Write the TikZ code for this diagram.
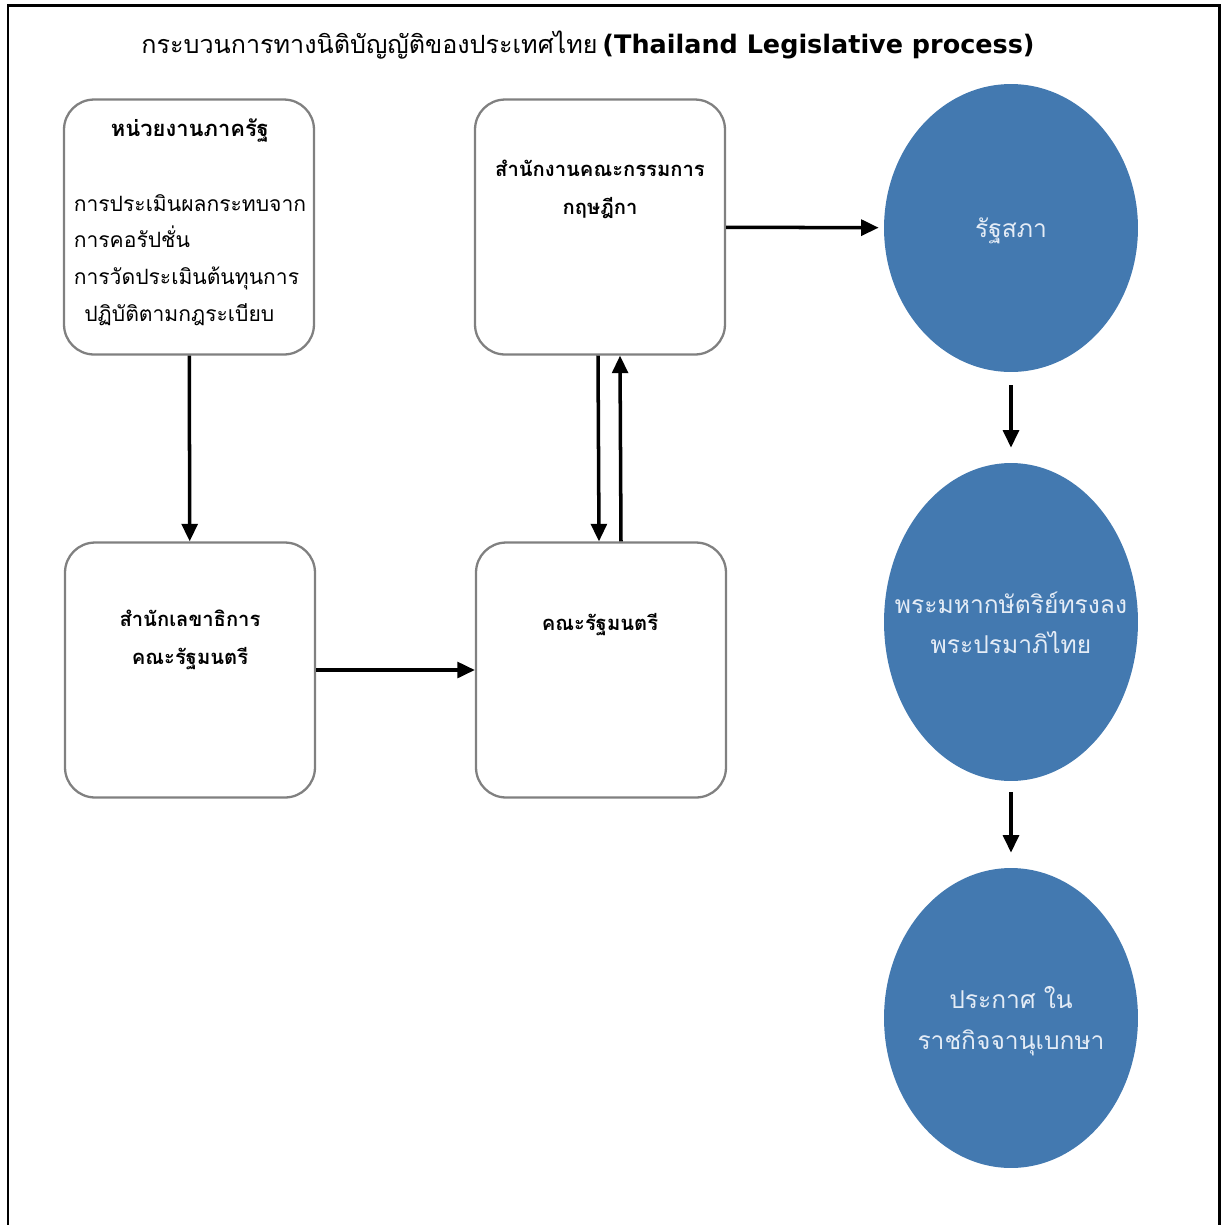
\documentclass[tikz,border=0pt]{standalone}
\usepackage{fontspec}
\setmainfont{Liberation Sans}
\newfontfamily\thaifont[Script=Thai]{Loma}
\newfontfamily\titlefont{DejaVu Sans}
\usetikzlibrary{arrows.meta,positioning,shapes.geometric}
\definecolor{ovalblue}{RGB}{67,121,176}
\definecolor{ovaltext}{RGB}{228,236,246}
\tikzset{
  govbox/.style={draw=gray, line width=1.3pt, rounded corners=0.6cm,
    minimum width=5cm, minimum height=5.1cm, inner sep=0pt},
  ovalnode/.style={ellipse, fill=ovalblue, draw=none, minimum width=5.08cm,
    inner sep=0pt},
  ovaltextstyle/.style={text=ovaltext, align=center,
    font=\thaifont\fontsize{14}{23}\selectfont},
  boxhead/.style={align=center, font=\thaifont\bfseries\fontsize{11.5}{21.5}\selectfont},
  boxtext/.style={align=left, font=\thaifont\fontsize{12}{21}\selectfont},
  flow/.style={-{Triangle[length=10pt,width=9pt]}, line width=2pt},
}
\begin{document}
\begin{tikzpicture}[x=0.02cm,y=-0.02cm]
  \useasboundingbox (0,0) rectangle (1221,1225);
  \draw[line width=1.7pt] (8,1225) -- (8,5) -- (1219,5) -- (1219,1225);
  \node (title) at (588,45) {{\thaifont\fontsize{14.3}{18}\selectfont กระบวนการทางนิติบัญญัติของประเทศไทย} {\titlefont\bfseries\fontsize{14.5}{18}\selectfont(Thailand Legislative process)}};

  % boxes
  \node[govbox] (gov) at (189,227) {};
  \node[govbox] (krisdika) at (600,227) {};
  \node[govbox] (sec) at (190,670) {};
  \node[govbox] (cab) at (601,670) {};
  \node[boxhead, font=\thaifont\bfseries\fontsize{12.5}{21.5}\selectfont] (govhead) at (190,131) {หน่วยงานภาครัฐ};
  \node[boxtext] (govtext) at (190,260) {การประเมินผลกระทบจาก\\การคอรัปชั่น\\การวัดประเมินต้นทุนการ\\\hspace{0.5em}ปฏิบัติตามกฎระเบียบ};
  \node[boxhead] (krisdikatext) at (600,189) {สำนักงานคณะกรรมการ\\กฤษฎีกา};
  \node[boxhead] (sectext) at (190,640) {สำนักเลขาธิการ\\คณะรัฐมนตรี};
  \node[boxhead] (cabtext) at (600,625) {คณะรัฐมนตรี};

  % ovals
  \node[ovalnode, minimum height=5.76cm] (parliament) at (1011,228) {};
  \node[ovalnode, minimum height=6.36cm] (king) at (1011,622) {};
  \node[ovalnode, minimum height=6cm] (gazette) at (1011,1018) {};
  \node[ovaltextstyle] (parliamenttext) at (1011,231) {รัฐสภา};
  \node[ovaltextstyle] (kingtext) at (1011,623) {พระมหากษัตริย์ทรงลง\\พระปรมาภิไทย};
  \node[ovaltextstyle] (gazettetext) at (1011,1021) {ประกาศ ใน\\ราชกิจจานุเบกษา};

  % arrows
  \draw[flow] (gov) -- (sec);
  \draw[flow] (sec) -- (cab);
  \draw[flow] ([xshift=-0.04cm]krisdika.south) -- ([xshift=-0.04cm]cab.north);
  \draw[flow] ([xshift=0.4cm]cab.north) -- ([xshift=0.4cm]krisdika.south);
  \draw[flow, shorten >=0.1cm] (krisdika) -- (parliament);
  \draw[flow, shorten <=0.26cm, shorten >=0.3cm] (parliament) -- (king);
  \draw[flow, shorten <=0.22cm, shorten >=0.3cm] (king) -- (gazette);
\end{tikzpicture}
\end{document}
